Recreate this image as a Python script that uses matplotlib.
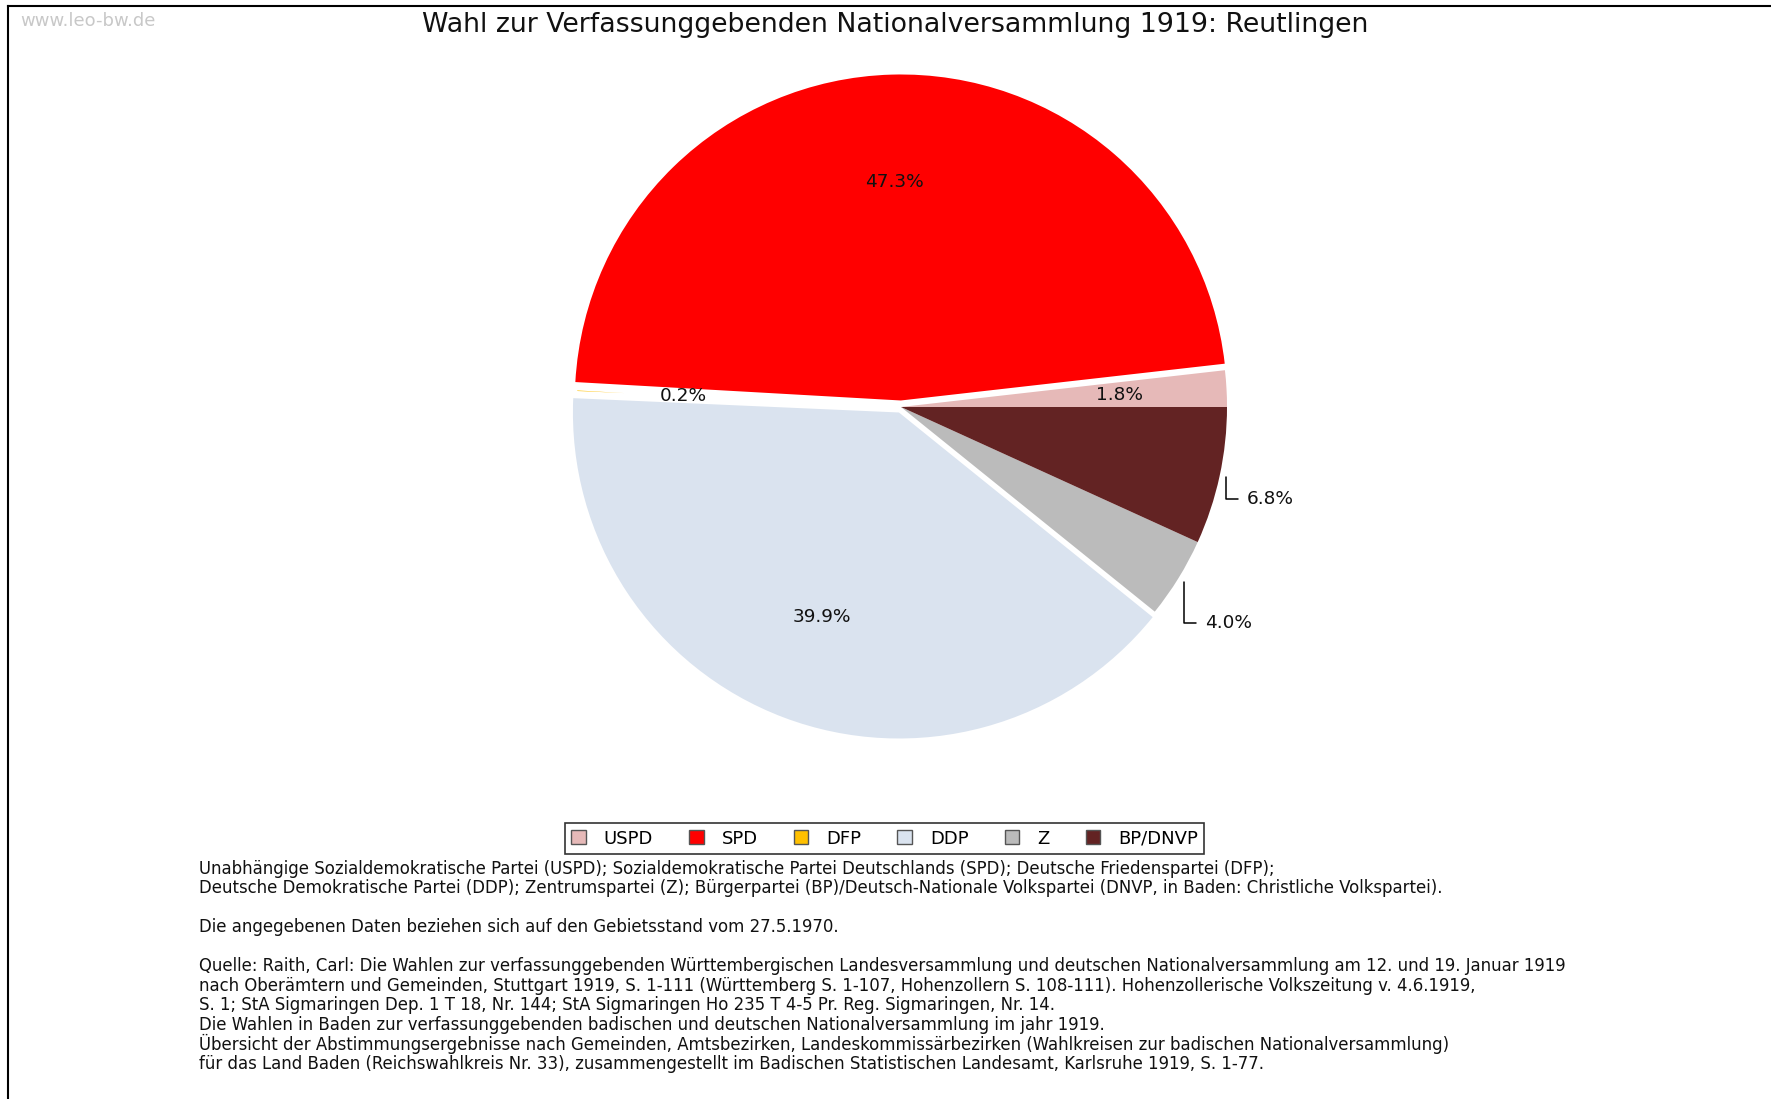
"""
Pie chart of the 1919 National Assembly election result for Reutlingen,
redrawn after the leo-bw.de chart with legend and source notes.
"""

import numpy as np
import matplotlib
matplotlib.use("Agg")
import matplotlib.pyplot as plt
import matplotlib.patches as mpatches
from matplotlib.lines import Line2D

# ── Data ──────────────────────────────────────────────────────────────────────

parties = ["USPD", "SPD", "DFP", "DDP", "Z", "BP/DNVP"]
shares  = [1.8, 47.3, 0.2, 39.9, 4.0, 6.8]
colors  = ["#E6B9B8", "#FF0000", "#FFC000", "#DAE3EF", "#BBBBBB", "#632323"]

title = "Wahl zur Verfassunggebenden Nationalversammlung 1919: Reutlingen"

notes = [
    "Unabhängige Sozialdemokratische Partei (USPD); Sozialdemokratische Partei Deutschlands (SPD); Deutsche Friedenspartei (DFP);",
    "Deutsche Demokratische Partei (DDP); Zentrumspartei (Z); Bürgerpartei (BP)/Deutsch-Nationale Volkspartei (DNVP, in Baden: Christliche Volkspartei).",
    "",
    "Die angegebenen Daten beziehen sich auf den Gebietsstand vom 27.5.1970.",
    "",
    "Quelle: Raith, Carl: Die Wahlen zur verfassunggebenden Württembergischen Landesversammlung und deutschen Nationalversammlung am 12. und 19. Januar 1919",
    "nach Oberämtern und Gemeinden, Stuttgart 1919, S. 1-111 (Württemberg S. 1-107, Hohenzollern S. 108-111). Hohenzollerische Volkszeitung v. 4.6.1919,",
    "S. 1; StA Sigmaringen Dep. 1 T 18, Nr. 144; StA Sigmaringen Ho 235 T 4-5 Pr. Reg. Sigmaringen, Nr. 14.",
    "Die Wahlen in Baden zur verfassunggebenden badischen und deutschen Nationalversammlung im jahr 1919.",
    "Übersicht der Abstimmungsergebnisse nach Gemeinden, Amtsbezirken, Landeskommissärbezirken (Wahlkreisen zur badischen Nationalversammlung)",
    "für das Land Baden (Reichswahlkreis Nr. 33), zusammengestellt im Badischen Statistischen Landesamt, Karlsruhe 1919, S. 1-77.",
]

# ── Layout (pixels of a 1771 x 1099 canvas) ───────────────────────────────────

W, H   = 1771, 1099
CX, CY = 901, 407      # pie centre
R      = 326           # pie radius
HALF   = 400           # half size of the pie axes

explode = [0, 0.02, 0, 0.018, 0, 0]
outside = {4: (0.932, -0.662), 5: (1.060, -0.281)}   # label text positions

fig = plt.figure(figsize=(W / 100, H / 100), dpi=100)
fig.patch.set_facecolor("white")

ax = fig.add_axes([(CX - HALF) / W, 1 - (CY + HALF) / H, 2 * HALF / W, 2 * HALF / H])
wedges, texts, autotexts = ax.pie(
    shares, colors=colors, explode=explode, startangle=0, counterclock=True,
    autopct="%.1f%%", pctdistance=0.67, radius=1,
    wedgeprops=dict(linewidth=0),
    textprops=dict(fontsize=13.3, color="#111111"),
)
# the 0.2 % sliver sits in the white gap, as in the original
wedges[2].set_edgecolor("white")
wedges[2].set_linewidth(2.5)

lim = HALF / R
ax.set_xlim(-lim, lim)
ax.set_ylim(-lim, lim)
ax.set_aspect("equal")
ax.axis("off")

# small slices get an L-shaped leader to a label outside the pie
for i, (tx, ty) in outside.items():
    autotexts[i].set_visible(False)
    w   = wedges[i]
    mid = np.deg2rad((w.theta1 + w.theta2) / 2)
    x0  = w.center[0] + 1.02 * np.cos(mid)
    y0  = w.center[1] + 1.02 * np.sin(mid)
    ax.annotate(
        f"{shares[i]:.1f}%", xy=(x0, y0), xytext=(tx, ty),
        ha="left", va="center", fontsize=13.3, color="#111111",
        arrowprops=dict(arrowstyle="-", color="black", lw=1.1,
                        shrinkA=4, shrinkB=0,
                        connectionstyle="angle,angleA=0,angleB=90,rad=0"),
    )

# ── Texts, legend, frame ──────────────────────────────────────────────────────

fig.text(895 / W, 1 - 25 / H, title, ha="center", va="center",
         fontsize=19.3, color="#111111")
fig.text(20 / W, 1 - 21 / H, "www.leo-bw.de", ha="left", va="center",
         fontsize=13, color="#c8c8c8")

handles = [mpatches.Patch(facecolor=c, edgecolor="#555555", linewidth=1)
           for c in colors]
leg = fig.legend(handles, parties, loc="center", ncol=6,
                 bbox_to_anchor=(884.5 / W, 1 - 838.5 / H),
                 fontsize=13, frameon=True, fancybox=False,
                 edgecolor="black", handlelength=0.8, handleheight=0.8,
                 handletextpad=1.0, columnspacing=2.0,
                 borderpad=0.35)
leg.get_frame().set_linewidth(1.2)

y = 868.6
for line in notes:
    if line:
        fig.text(199 / W, 1 - y / H, line, ha="left", va="center",
                 fontsize=13.2, fontstretch="condensed", color="#111111")
    y += 19.5

fig.add_artist(Line2D([8 / W, 8 / W], [0, 1 - 6 / H], color="black", lw=1.5))
fig.add_artist(Line2D([8 / W, 1], [1 - 6 / H, 1 - 6 / H], color="black", lw=1.5))

fig.savefig("out.png", dpi=100)
plt.close(fig)
